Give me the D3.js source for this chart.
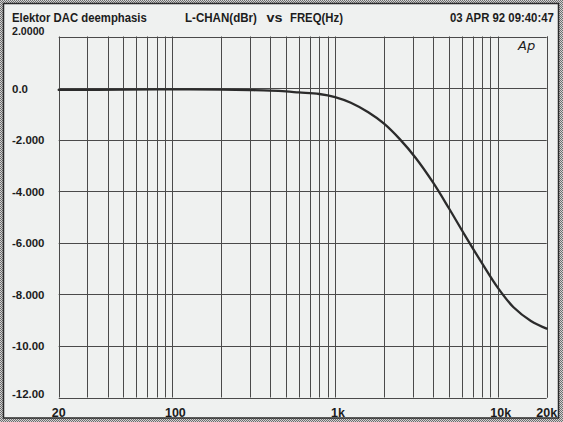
<!DOCTYPE html>
<html>
<head>
<meta charset="utf-8">
<script src="https://cdn.jsdelivr.net/npm/d3@7/dist/d3.min.js"></script>
<style>
  html, body { margin: 0; padding: 0; background: #bdbdbd; }
  svg { display: block; }
  text { font-family: "Liberation Sans", Arial, Helvetica, sans-serif; font-weight: bold; fill: #1c1c1c; }
</style>
</head>
<body>
<svg id="chart" width="563" height="422"></svg>
<script>
// Frequency response sweep: L-CHAN level (dBr) against frequency (Hz)
const freqHz = [20, 50, 100, 200, 300, 400, 500, 600, 800, 1000, 1250, 1600, 2000,
                2500, 3150, 4000, 5000, 6300, 8000, 10000, 12500, 16000, 20000];
const levelDbr = [-0.07, -0.06, -0.05, -0.06, -0.08, -0.10, -0.13, -0.17, -0.23, -0.35,
                  -0.57, -0.94, -1.38, -1.98, -2.73, -3.66, -4.65, -5.72, -6.79, -7.74,
                  -8.50, -9.03, -9.33];

const yTicks = [2, 0, -2, -4, -6, -8, -10, -12];
const yTickLabels = ["2.0000", "0.0", "-2.000", "-4.000", "-6.000", "-8.000", "-10.00", "-12.00"];
const xTicks = [20, 100, 1000, 10000, 20000];
const xTickLabels = ["20", "100", "1k", "10k", "20k"];

const titleLeft = "Elektor DAC deemphasis";
const titleMid = ["L-CHAN(dBr)", "vs", "FREQ(Hz)"];
const titleRight = "03 APR 92 09:40:47";

const W = 563, H = 422;
const plot = { left: 58.7, right: 546.7, top: 36.5, bottom: 397.5 };

const svg = d3.select("#chart");

// halftone screen around the sheet
const defs = svg.append("defs");
const pat = defs.append("pattern").attr("id", "screen")
  .attr("width", 2).attr("height", 2).attr("patternUnits", "userSpaceOnUse");
pat.append("rect").attr("width", 2).attr("height", 2).attr("fill", "#d2d2d2");
pat.append("rect").attr("x", 0).attr("y", 0).attr("width", 1).attr("height", 1).attr("fill", "#6e6e6e");
pat.append("rect").attr("x", 1).attr("y", 1).attr("width", 1).attr("height", 1).attr("fill", "#6e6e6e");

svg.append("rect").attr("width", W).attr("height", H).attr("fill", "url(#screen)");

// sheet
svg.append("rect")
  .attr("x", 3.5).attr("y", 3.5).attr("width", 555).attr("height", 414.5)
  .attr("fill", "#eff1f0").attr("stroke", "#2a2a2a").attr("stroke-width", 1.5);

const x = d3.scaleLog().domain([20, 20000]).range([plot.left, plot.right]);
const y = d3.scaleLinear().domain([-12, 2]).range([plot.bottom, plot.top]);

// vertical grid: every 1..9 step of each decade
const vGrid = [];
[10, 100, 1000, 10000].forEach(dec => {
  for (let k = 1; k <= 9; k++) {
    const f = dec * k;
    if (f >= 20 && f <= 20000) vGrid.push(f);
  }
});
vGrid.push(20000);

const grid = svg.append("g").attr("stroke", "#4a4a4a").attr("stroke-width", 1);
grid.selectAll("line.v").data(vGrid).join("line")
  .attr("class", "v")
  .attr("x1", d => Math.round(x(d)) + 0.5).attr("x2", d => Math.round(x(d)) + 0.5)
  .attr("y1", plot.top).attr("y2", plot.bottom);
grid.selectAll("line.h").data(yTicks).join("line")
  .attr("class", "h")
  .attr("x1", plot.left).attr("x2", plot.right)
  .attr("y1", d => Math.round(y(d)) + 0.5).attr("y2", d => Math.round(y(d)) + 0.5);

// response curve
const line = d3.line()
  .x((d, i) => x(freqHz[i]))
  .y(d => y(d))
  .curve(d3.curveCatmullRom.alpha(0.5));
svg.append("path")
  .datum(levelDbr)
  .attr("d", line)
  .attr("fill", "none")
  .attr("stroke", "#2b2b2b")
  .attr("stroke-width", 2.3)
  .attr("stroke-linecap", "round");

// y tick labels
svg.append("g").selectAll("text").data(yTicks).join("text")
  .attr("x", 12)
  .attr("y", (d, i) => {
    const gy = y(d);
    if (i === 0) return gy - 1.5;
    if (i === yTicks.length - 1) return gy;
    return gy + 4.5;
  })
  .attr("font-size", 11.5)
  .attr("textLength", (d, i) => yTickLabels[i].length >= 6 ? 32.5 : null)
  .attr("lengthAdjust", "spacingAndGlyphs")
  .text((d, i) => yTickLabels[i]);

// x tick labels
svg.append("g").selectAll("text").data(xTicks).join("text")
  .attr("x", (d, i) => x(d) + (i === 0 || i === xTicks.length - 1 ? 0 : 3))
  .attr("y", 417)
  .attr("text-anchor", "middle")
  .attr("font-size", 12.5)
  .text((d, i) => xTickLabels[i]);

// header (condensed horizontally like the plotter font)
function header(str, x0, width, yBase) {
  const t = svg.append("text").attr("font-size", 13).text(str);
  const natural = t.node().getComputedTextLength();
  t.attr("transform", `translate(${x0},${yBase}) scale(${width / natural},1)`);
}
header(titleLeft, 12, 135, 21.5);
const midX = [185, 266.5, 290];
const midW = [72, 16, 53];
titleMid.forEach((s, i) => header(s, midX[i], midW[i], 21.5));
header(titleRight, 450, 104, 21.5);

// instrument mark
svg.append("text").attr("x", 518).attr("y", 50)
  .style("font-family", "'DejaVu Sans', sans-serif")
  .style("font-weight", "normal").style("font-style", "italic")
  .attr("font-size", 13).attr("fill", "#3a3a3a")
  .text("Ap");
</script>
</body>
</html>
